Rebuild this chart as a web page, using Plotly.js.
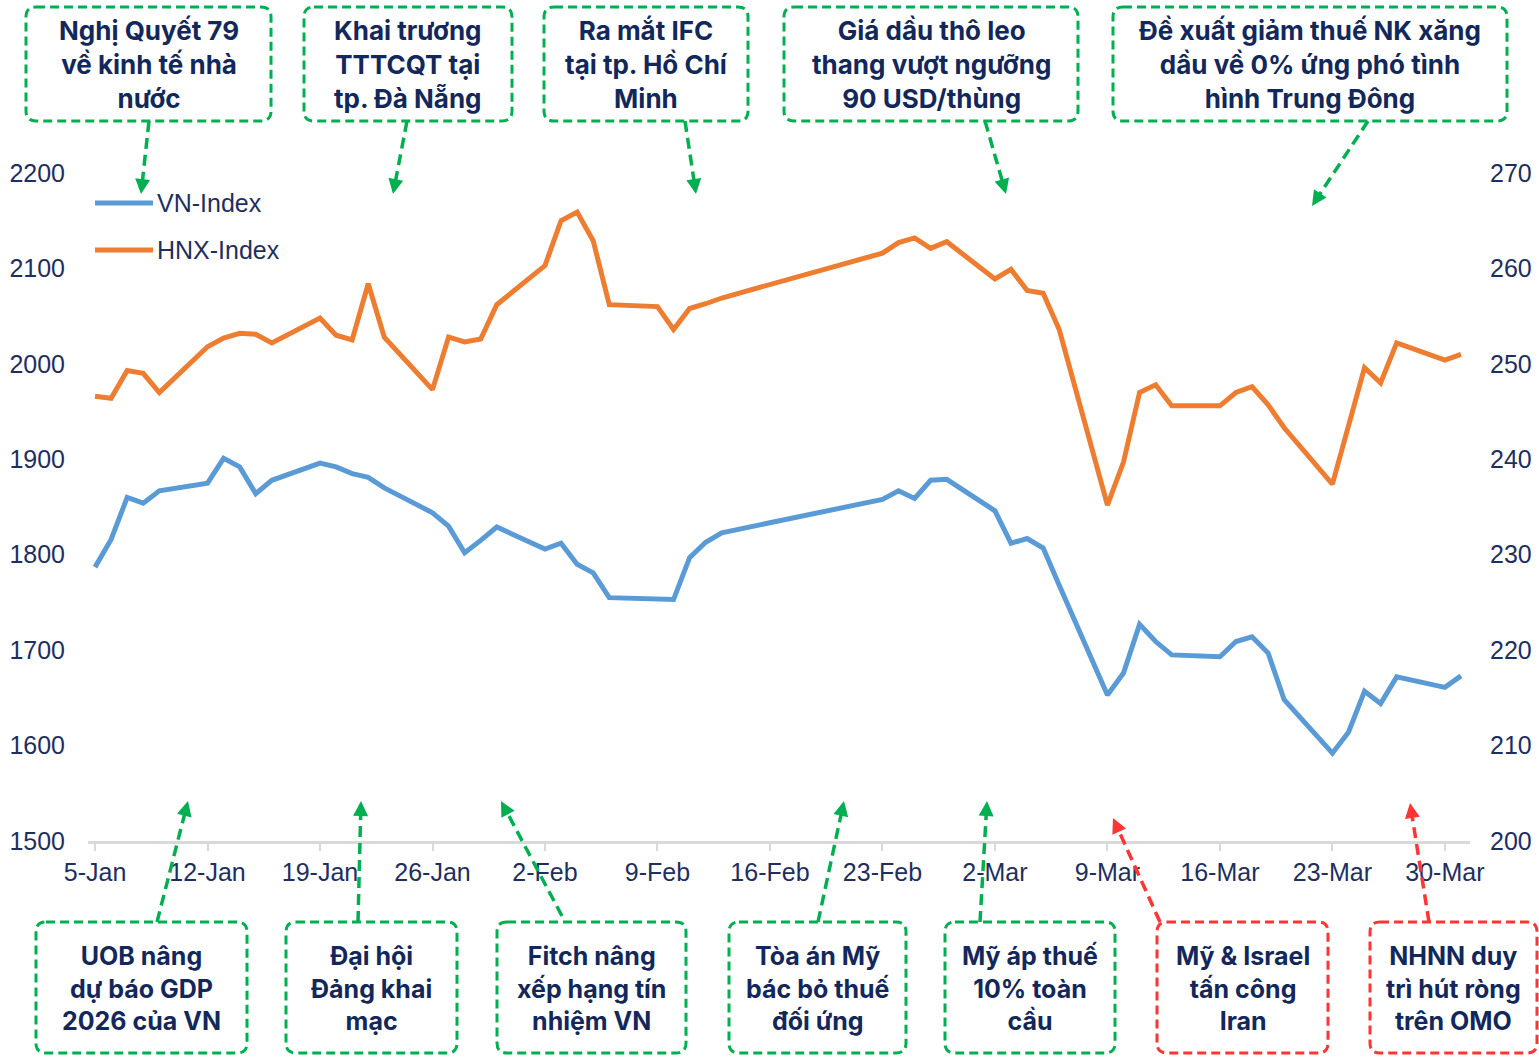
<!DOCTYPE html>
<html>
<head>
<meta charset="utf-8">
<script src="https://cdn.plot.ly/plotly-3.0.1.min.js"></script>
<style>
html,body{margin:0;padding:0;background:#ffffff;}
#chart{width:1539px;height:1057px;}
</style>
</head>
<body>
<div id="chart"></div>
<script>
// ---------------- DATA ----------------
const dates = [
  '2026-01-05','2026-01-06','2026-01-07','2026-01-08','2026-01-09',
  '2026-01-12','2026-01-13','2026-01-14','2026-01-15','2026-01-16',
  '2026-01-19','2026-01-20','2026-01-21','2026-01-22','2026-01-23',
  '2026-01-26','2026-01-27','2026-01-28','2026-01-29','2026-01-30',
  '2026-02-02','2026-02-03','2026-02-04','2026-02-05','2026-02-06',
  '2026-02-09','2026-02-10','2026-02-11','2026-02-12','2026-02-13',
  '2026-02-23','2026-02-24','2026-02-25','2026-02-26','2026-02-27',
  '2026-03-02','2026-03-03','2026-03-04','2026-03-05','2026-03-06',
  '2026-03-09','2026-03-10','2026-03-11','2026-03-12','2026-03-13',
  '2026-03-16','2026-03-17','2026-03-18','2026-03-19','2026-03-20',
  '2026-03-23','2026-03-24','2026-03-25','2026-03-26','2026-03-27',
  '2026-03-30','2026-03-31'
];
const vnIndex = [
  1787,1816,1860,1854,1867,
  1875,1901,1892,1864,1878,
  1896,1892,1885,1881,1870,
  1844,1830,1802,1815,1829,
  1806,1812,1790,1781,1755,
  1754,1753,1797,1813,1823,
  1858,1867,1859,1878,1879,
  1846,1812,1817,1807,1768,
  1653,1676,1727,1709,1695,
  1693,1709,1714,1697,1648,
  1592,1614,1657,1644,1672,
  1661,1673
];
const hnxIndex = [
  246.6,246.4,249.3,249.0,247.0,
  251.8,252.7,253.2,253.1,252.2,
  254.8,253.0,252.5,258.4,252.8,
  247.3,252.8,252.3,252.6,256.2,
  260.3,265.0,265.9,262.9,256.2,
  256.0,253.6,255.8,256.3,256.9,
  261.6,262.7,263.2,262.1,262.8,
  258.9,259.9,257.7,257.4,253.6,
  235.2,239.7,247.0,247.8,245.6,
  245.6,247.0,247.6,245.7,243.3,
  237.4,243.5,249.6,248.0,252.2,
  250.4,251.0
];
const seriesNames = ['VN-Index','HNX-Index'];
const tickDates = ['2026-01-05','2026-01-12','2026-01-19','2026-01-26','2026-02-02','2026-02-09',
  '2026-02-16','2026-02-23','2026-03-02','2026-03-09','2026-03-16','2026-03-23','2026-03-30'];
const tickLabels = ['5-Jan','12-Jan','19-Jan','26-Jan','2-Feb','9-Feb','16-Feb','23-Feb',
  '2-Mar','9-Mar','16-Mar','23-Mar','30-Mar'];
const leftTicks = [1500,1600,1700,1800,1900,2000,2100,2200];
const rightTicks = [200,210,220,230,240,250,260,270];
const topNotes = [
  'Nghị Quyết 79<br>về kinh tế nhà<br>nước',
  'Khai trương<br>TTTCQT tại<br>tp. Đà Nẵng',
  'Ra mắt IFC<br>tại tp. Hồ Chí<br>Minh',
  'Giá dầu thô leo<br>thang vượt ngưỡng<br>90 USD/thùng',
  'Đề xuất giảm thuế NK xăng<br>dầu về 0% ứng phó tình<br>hình Trung Đông'
];
const bottomNotes = [
  'UOB nâng<br>dự báo GDP<br>2026 của VN',
  'Đại hội<br>Đảng khai<br>mạc',
  'Fitch nâng<br>xếp hạng tín<br>nhiệm VN',
  'Tòa án Mỹ<br>bác bỏ thuế<br>đối ứng',
  'Mỹ áp thuế<br>10% toàn<br>cầu',
  'Mỹ &amp; Israel<br>tấn công<br>Iran',
  'NHNN duy<br>trì hút ròng<br>trên OMO'
];
const bottomNoteKinds = ['pos','pos','pos','pos','pos','neg','neg'];

// ---------------- STYLE / GEOMETRY ----------------
const W = 1539, H = 1057;
const M = {l: 88, r: 69, t: 173, b: 216};
const PW = W - M.l - M.r, PH = H - M.t - M.b;
const X = p => (p - M.l) / PW;          // pixel -> paper x
const Y = p => (H - M.b - p) / PH;      // pixel -> paper y
const NAVY = '#13285A';
const AXIS_TXT = '#1E2F5E';
const GREEN = '#00B050';
const RED = '#FF3535';
const BLUE = '#5B9BD5';
const ORANGE = '#ED7D31';

const topBoxes = [[26,7,271,121],[304,7,512,121],[544,7,748,121],[784,7,1078,121],[1113,7,1507,121]];
const topArrows = [[149,121,141,194],[407,121,393,194],[685,121,696,194],[985,121,1006,194],[1368,121,1312,206]];
const bottomBoxes = [[36,922,247,1053],[286,922,457,1053],[497,922,686,1053],[729,922,906,1053],
  [945,922,1115,1053],[1157,922,1328,1053],[1370,922,1537,1053]];
const bottomArrows = [[157,922,188,801],[358,922,361,801],[562,916,501,801],[818,922,844,801],
  [980,922,987,801],[1160,922,1113,818],[1429,922,1410,803]];

function roundRect(b, r) {
  const [x0,y0,x1,y1] = b;
  return 'M' + X(x0+r) + ',' + Y(y0) +
    ' L' + X(x1-r) + ',' + Y(y0) +
    ' Q' + X(x1) + ',' + Y(y0) + ' ' + X(x1) + ',' + Y(y0+r) +
    ' L' + X(x1) + ',' + Y(y1-r) +
    ' Q' + X(x1) + ',' + Y(y1) + ' ' + X(x1-r) + ',' + Y(y1) +
    ' L' + X(x0+r) + ',' + Y(y1) +
    ' Q' + X(x0) + ',' + Y(y1) + ' ' + X(x0) + ',' + Y(y1-r) +
    ' L' + X(x0) + ',' + Y(y0+r) +
    ' Q' + X(x0) + ',' + Y(y0) + ' ' + X(x0+r) + ',' + Y(y0) + ' Z';
}

const shapes = [];
const annotations = [];

function addNote(box, arrow, text, color, fontSize) {
  shapes.push({type:'path', xref:'paper', yref:'paper', path: roundRect(box, 10),
    line:{color:color, width:3, dash:'9px,5px'}, fillcolor:'rgba(0,0,0,0)', layer:'above'});
  const [sx,sy,tx,ty] = arrow;
  const dx = tx - sx, dy = ty - sy, len = Math.hypot(dx, dy);
  const ux = dx/len, uy = dy/len;
  const ex = tx - ux*9, ey = ty - uy*9;
  shapes.push({type:'line', xref:'paper', yref:'paper', x0:X(sx), y0:Y(sy), x1:X(ex), y1:Y(ey),
    line:{color:color, width:3.5, dash:'11px,6px'}, layer:'above'});
  annotations.push({xref:'paper', yref:'paper', x:X(tx), y:Y(ty), text:'', showarrow:true,
    ax:-ux*14, ay:-uy*14, arrowhead:2, arrowsize:1, arrowwidth:3, arrowcolor:color, standoff:0});
  annotations.push({xref:'paper', yref:'paper', x:X((box[0]+box[2])/2), y:Y((box[1]+box[3])/2 + 1),
    xanchor:'center', yanchor:'middle', align:'center', showarrow:false, text:text,
    font:{family:'Inter, Roboto, sans-serif', size:fontSize, color:NAVY, weight:700}});
}
topNotes.forEach((t,i) => addNote(topBoxes[i], topArrows[i], t, GREEN, 26));
bottomNotes.forEach((t,i) => addNote(bottomBoxes[i], bottomArrows[i], t,
  bottomNoteKinds[i]==='neg' ? RED : GREEN, 25));

// manual legend (long line samples as in the original)
const legendRows = [{y:203, color:BLUE}, {y:250, color:ORANGE}];
legendRows.forEach((row,i) => {
  shapes.push({type:'line', xref:'paper', yref:'paper', x0:X(95), x1:X(153), y0:Y(row.y), y1:Y(row.y),
    line:{color:row.color, width:5}});
  annotations.push({xref:'paper', yref:'paper', x:X(155), y:Y(row.y), xanchor:'left', yanchor:'middle',
    showarrow:false, text:seriesNames[i],
    font:{family:'Liberation Sans, Arial, sans-serif', size:25, color:AXIS_TXT}});
});

const traces = [
  {x:dates, y:vnIndex, name:seriesNames[0], type:'scatter', mode:'lines', yaxis:'y',
   line:{color:BLUE, width:5}, showlegend:false},
  {x:dates, y:hnxIndex, name:seriesNames[1], type:'scatter', mode:'lines', yaxis:'y2',
   line:{color:ORANGE, width:5}, showlegend:false}
];

const tickFont = {family:'Liberation Sans, Arial, sans-serif', size:25, color:AXIS_TXT};
const layout = {
  width: W, height: H,
  margin: M,
  paper_bgcolor:'#ffffff', plot_bgcolor:'#ffffff',
  showlegend:false,
  xaxis: {
    type:'date', range:['2026-01-04 13:30','2026-03-31 13:30'],
    tickmode:'array', tickvals:tickDates, ticktext:tickLabels,
    ticks:'outside', ticklen:7, tickwidth:2, tickcolor:'#D9D9D9',
    showline:true, linecolor:'#D9D9D9', linewidth:2.5,
    showgrid:false, zeroline:false, tickfont:tickFont, fixedrange:true
  },
  yaxis: {
    range:[1500,2200], tickmode:'array', tickvals:leftTicks,
    showgrid:false, zeroline:false, showline:false, ticks:'',
    ticklabelstandoff:22, tickfont:tickFont, fixedrange:true
  },
  yaxis2: {
    range:[200,270], tickmode:'array', tickvals:rightTicks, overlaying:'y', side:'right',
    showgrid:false, zeroline:false, showline:false, ticks:'',
    ticklabelstandoff:19, tickfont:tickFont, fixedrange:true
  },
  shapes: shapes,
  annotations: annotations
};

Plotly.newPlot('chart', traces, layout, {displayModeBar:false, staticPlot:true});
</script>
</body>
</html>
